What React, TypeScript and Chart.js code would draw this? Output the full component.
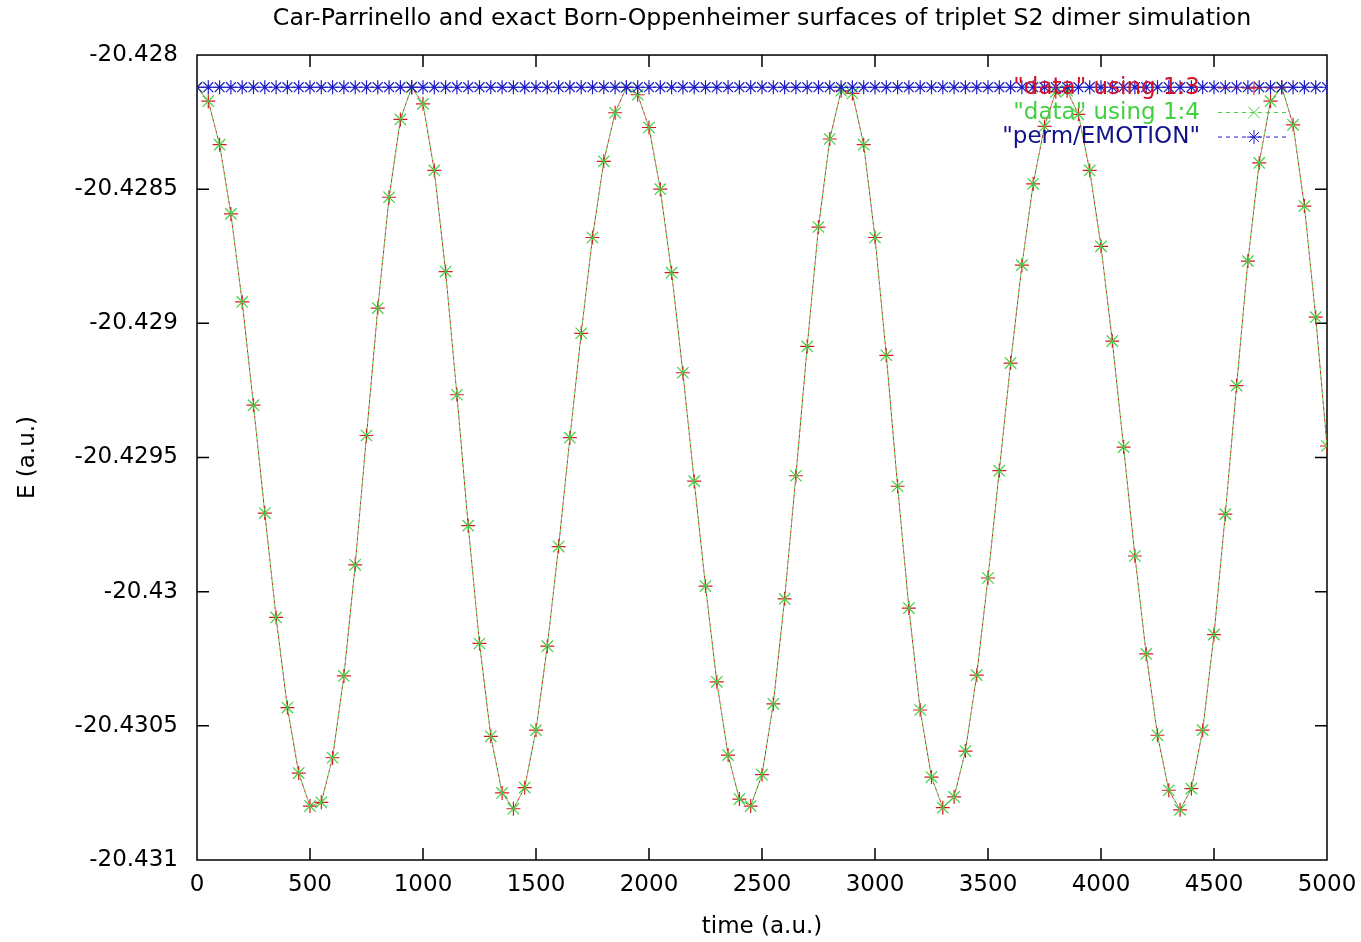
import React, { useEffect, useRef } from 'react';
import { Chart, registerables } from 'chart.js';

Chart.register(...registerables);

const CHART_TITLE = 'Car-Parrinello and exact Born-Oppenheimer surfaces of triplet S2 dimer simulation';
const X_TITLE = 'time (a.u.)';
const Y_TITLE = 'E (a.u.)';

const seriesLabels = ['"data" using 1:3', '"data" using 1:4', '"perm/EMOTION"'];

const times = [
  0, 50, 100, 150, 200, 250, 300, 350, 400, 450,
  500, 550, 600, 650, 700, 750, 800, 850, 900, 950,
  1000, 1050, 1100, 1150, 1200, 1250, 1300, 1350, 1400, 1450,
  1500, 1550, 1600, 1650, 1700, 1750, 1800, 1850, 1900, 1950,
  2000, 2050, 2100, 2150, 2200, 2250, 2300, 2350, 2400, 2450,
  2500, 2550, 2600, 2650, 2700, 2750, 2800, 2850, 2900, 2950,
  3000, 3050, 3100, 3150, 3200, 3250, 3300, 3350, 3400, 3450,
  3500, 3550, 3600, 3650, 3700, 3750, 3800, 3850, 3900, 3950,
  4000, 4050, 4100, 4150, 4200, 4250, 4300, 4350, 4400, 4450,
  4500, 4550, 4600, 4650, 4700, 4750, 4800, 4850, 4900, 4950,
  5000,
];

// column 3 of "data" (Car-Parrinello energy)
const cpEnergy = [
  -20.428120, -20.428172, -20.428334, -20.428592, -20.428920, -20.429305, -20.429707, -20.430096, -20.430432, -20.430676,
  -20.430799, -20.430785, -20.430619, -20.430314, -20.429900, -20.429418, -20.428943, -20.428530, -20.428240, -20.428120,
  -20.428182, -20.428430, -20.428807, -20.429266, -20.429754, -20.430193, -20.430539, -20.430750, -20.430809, -20.430730,
  -20.430516, -20.430203, -20.429832, -20.429426, -20.429037, -20.428680, -20.428396, -20.428215, -20.428120, -20.428148,
  -20.428270, -20.428500, -20.428811, -20.429184, -20.429588, -20.429979, -20.430336, -20.430609, -20.430773, -20.430799,
  -20.430682, -20.430418, -20.430027, -20.429568, -20.429086, -20.428641, -20.428313, -20.428133, -20.428143, -20.428334,
  -20.428680, -20.429119, -20.429607, -20.430061, -20.430441, -20.430691, -20.430805, -20.430765, -20.430594, -20.430311,
  -20.429949, -20.429549, -20.429148, -20.428783, -20.428480, -20.428266, -20.428137, -20.428133, -20.428221, -20.428430,
  -20.428713, -20.429066, -20.429461, -20.429867, -20.430232, -20.430535, -20.430740, -20.430813, -20.430734, -20.430516,
  -20.430160, -20.429711, -20.429232, -20.428768, -20.428402, -20.428172, -20.428120, -20.428260, -20.428563, -20.428977,
  -20.429457,
];

// column 4 of "data" (exact Born-Oppenheimer energy)
const boEnergy = [
  -20.428120, -20.428172, -20.428334, -20.428592, -20.428920, -20.429305, -20.429707, -20.430096, -20.430432, -20.430676,
  -20.430799, -20.430785, -20.430619, -20.430314, -20.429900, -20.429418, -20.428943, -20.428530, -20.428240, -20.428120,
  -20.428182, -20.428430, -20.428807, -20.429266, -20.429754, -20.430193, -20.430539, -20.430750, -20.430809, -20.430730,
  -20.430516, -20.430203, -20.429832, -20.429426, -20.429037, -20.428680, -20.428396, -20.428215, -20.428120, -20.428148,
  -20.428270, -20.428500, -20.428811, -20.429184, -20.429588, -20.429979, -20.430336, -20.430609, -20.430773, -20.430799,
  -20.430682, -20.430418, -20.430027, -20.429568, -20.429086, -20.428641, -20.428313, -20.428133, -20.428143, -20.428334,
  -20.428680, -20.429119, -20.429607, -20.430061, -20.430441, -20.430691, -20.430805, -20.430765, -20.430594, -20.430311,
  -20.429949, -20.429549, -20.429148, -20.428783, -20.428480, -20.428266, -20.428137, -20.428133, -20.428221, -20.428430,
  -20.428713, -20.429066, -20.429461, -20.429867, -20.430232, -20.430535, -20.430740, -20.430813, -20.430734, -20.430516,
  -20.430160, -20.429711, -20.429232, -20.428768, -20.428402, -20.428172, -20.428120, -20.428260, -20.428563, -20.428977,
  -20.429457,
];

// perm/EMOTION total (conserved) energy
const emotionEnergy = [
  -20.42812, -20.42812, -20.42812, -20.42812, -20.42812, -20.42812, -20.42812, -20.42812, -20.42812, -20.42812,
  -20.42812, -20.42812, -20.42812, -20.42812, -20.42812, -20.42812, -20.42812, -20.42812, -20.42812, -20.42812,
  -20.42812, -20.42812, -20.42812, -20.42812, -20.42812, -20.42812, -20.42812, -20.42812, -20.42812, -20.42812,
  -20.42812, -20.42812, -20.42812, -20.42812, -20.42812, -20.42812, -20.42812, -20.42812, -20.42812, -20.42812,
  -20.42812, -20.42812, -20.42812, -20.42812, -20.42812, -20.42812, -20.42812, -20.42812, -20.42812, -20.42812,
  -20.42812, -20.42812, -20.42812, -20.42812, -20.42812, -20.42812, -20.42812, -20.42812, -20.42812, -20.42812,
  -20.42812, -20.42812, -20.42812, -20.42812, -20.42812, -20.42812, -20.42812, -20.42812, -20.42812, -20.42812,
  -20.42812, -20.42812, -20.42812, -20.42812, -20.42812, -20.42812, -20.42812, -20.42812, -20.42812, -20.42812,
  -20.42812, -20.42812, -20.42812, -20.42812, -20.42812, -20.42812, -20.42812, -20.42812, -20.42812, -20.42812,
  -20.42812, -20.42812, -20.42812, -20.42812, -20.42812, -20.42812, -20.42812, -20.42812, -20.42812, -20.42812,
  -20.42812,
];

const xTickValues = [0, 500, 1000, 1500, 2000, 2500, 3000, 3500, 4000, 4500, 5000];
const xTickLabels = ['0', '500', '1000', '1500', '2000', '2500', '3000', '3500', '4000', '4500', '5000'];
const yTickValues = [-20.431, -20.4305, -20.43, -20.4295, -20.429, -20.4285, -20.428];
const yTickLabels = ['-20.431', '-20.4305', '-20.43', '-20.4295', '-20.429', '-20.4285', '-20.428'];

const FONT = '"DejaVu Sans", "Liberation Sans", Arial, sans-serif';
const RED = '#d02020';
const GREEN = '#3fd03f';
const BLUE = '#1c1cc4';
const legendTextColors = ['#d01028', '#40d040', '#12128c'];

function drawMarker(ctx: CanvasRenderingContext2D, style: string, x: number, y: number, r: number) {
  ctx.beginPath();
  if (style === 'cross' || style === 'star') {
    ctx.moveTo(x - r, y); ctx.lineTo(x + r, y);
    ctx.moveTo(x, y - r); ctx.lineTo(x, y + r);
  }
  if (style === 'crossRot' || style === 'star') {
    const d = r * Math.SQRT1_2;
    ctx.moveTo(x - d, y - d); ctx.lineTo(x + d, y + d);
    ctx.moveTo(x - d, y + d); ctx.lineTo(x + d, y - d);
  }
  ctx.stroke();
}

const framePlugin = {
  id: 'gnuFrame',
  beforeDatasetsDraw(chart: any) {
    const { ctx, chartArea: a, scales } = chart;
    ctx.save();
    ctx.strokeStyle = '#000';
    ctx.lineWidth = 1.5;
    ctx.strokeRect(a.left, a.top, a.right - a.left, a.bottom - a.top);
    const L = 12;
    ctx.beginPath();
    scales.x.ticks.forEach((t: any) => {
      const px = scales.x.getPixelForValue(t.value);
      if (px <= a.left + 1 || px >= a.right - 1) return;
      ctx.moveTo(px, a.bottom); ctx.lineTo(px, a.bottom - L);
      ctx.moveTo(px, a.top); ctx.lineTo(px, a.top + L);
    });
    scales.y.ticks.forEach((t: any) => {
      const py = scales.y.getPixelForValue(t.value);
      if (py <= a.top + 1 || py >= a.bottom - 1) return;
      ctx.moveTo(a.left, py); ctx.lineTo(a.left + L, py);
      ctx.moveTo(a.right, py); ctx.lineTo(a.right - L, py);
    });
    ctx.stroke();
    ctx.restore();
  },
};

const keyPlugin = {
  id: 'gnuKey',
  afterDatasetsDraw(chart: any) {
    const { ctx, chartArea: a } = chart;
    const textRight = a.right - 127;
    const sampleL = a.right - 109;
    const sampleR = a.right - 37;
    ctx.save();
    ctx.font = `23px ${FONT}`;
    ctx.textAlign = 'right';
    ctx.textBaseline = 'middle';
    chart.data.datasets.forEach((ds: any, i: number) => {
      const y = a.top + 33 + i * 24.5;
      ctx.fillStyle = legendTextColors[i];
      ctx.fillText(ds.label, textRight, y);
      ctx.strokeStyle = ds.borderColor;
      ctx.lineWidth = 1;
      ctx.setLineDash([4, 4]);
      ctx.beginPath();
      ctx.moveTo(sampleL, y); ctx.lineTo(sampleR, y);
      ctx.stroke();
      ctx.setLineDash([]);
      drawMarker(ctx, ds.pointStyle, (sampleL + sampleR) / 2, y, ds.pointRadius);
    });
    ctx.restore();
  },
};

export default function App() {
  const ref = useRef<HTMLCanvasElement>(null);

  useEffect(() => {
    const canvas = ref.current;
    if (!canvas) return;
    const chart = new Chart(canvas, {
      type: 'line',
      data: {
        datasets: [
          {
            label: seriesLabels[0],
            data: times.map((t, i) => ({ x: t, y: cpEnergy[i] })),
            borderColor: RED,
            backgroundColor: RED,
            borderWidth: 1,
            borderDash: [3, 3],
            pointStyle: 'cross',
            pointRadius: 7,
            pointBorderWidth: 1.2,
            pointBorderColor: RED,
            tension: 0,
            fill: false,
            order: 3,
          },
          {
            label: seriesLabels[1],
            data: times.map((t, i) => ({ x: t, y: boEnergy[i] })),
            borderColor: GREEN,
            backgroundColor: GREEN,
            borderWidth: 1,
            borderDash: [3, 3],
            borderDashOffset: 3,
            pointStyle: 'crossRot',
            pointRadius: 8,
            pointBorderWidth: 1.2,
            pointBorderColor: GREEN,
            tension: 0,
            fill: false,
            order: 2,
          },
          {
            label: seriesLabels[2],
            data: times.map((t, i) => ({ x: t, y: emotionEnergy[i] })),
            borderColor: BLUE,
            backgroundColor: BLUE,
            borderWidth: 1,
            borderDash: [3, 3],
            pointStyle: 'star',
            pointRadius: 7,
            pointBorderWidth: 1.2,
            pointBorderColor: BLUE,
            tension: 0,
            fill: false,
            order: 1,
          },
        ],
      },
      options: {
        responsive: false,
        animation: false,
        events: [],
        layout: { padding: { left: 0, right: 34, top: 0, bottom: 0 } },
        plugins: {
          legend: { display: false },
          tooltip: { enabled: false },
          title: {
            display: true,
            text: CHART_TITLE,
            color: '#000',
            fullSize: false,
            font: { family: FONT, size: 23.7, weight: 'normal', lineHeight: 1.2 },
            padding: { top: 5, bottom: 21.6 },
          },
        },
        scales: {
          x: {
            type: 'linear',
            min: 0,
            max: 5000,
            afterBuildTicks: (s: any) => { s.ticks = xTickValues.map((v) => ({ value: v })); },
            afterFit: (s: any) => { s.height = 82; s.paddingLeft = 0; s.paddingRight = 0; },
            grid: { display: false, drawTicks: false },
            border: { display: false },
            ticks: {
              padding: 11,
              color: '#000',
              maxRotation: 0,
              autoSkip: false,
              font: { family: FONT, size: 23, lineHeight: 1.2 },
              callback: (_v: any, i: number) => xTickLabels[i],
            },
            title: {
              display: true,
              text: X_TITLE,
              color: '#000',
              font: { family: FONT, size: 23, lineHeight: 1.2 },
              padding: { top: 0, bottom: 1 },
            },
          },
          y: {
            type: 'linear',
            min: -20.431,
            max: -20.428,
            afterBuildTicks: (s: any) => { s.ticks = yTickValues.map((v) => ({ value: v })); },
            afterFit: (s: any) => { s.width = 197; },
            grid: { display: false, drawTicks: false },
            border: { display: false },
            ticks: {
              padding: 19,
              color: '#000',
              autoSkip: false,
              font: { family: FONT, size: 23, lineHeight: 1.2 },
              callback: (_v: any, i: number) => yTickLabels[i],
            },
            title: {
              display: true,
              text: Y_TITLE,
              color: '#000',
              font: { family: FONT, size: 23, lineHeight: 1.2 },
              padding: { top: 14, bottom: 0 },
            },
          },
        },
      },
      plugins: [framePlugin, keyPlugin],
    } as any);
    return () => chart.destroy();
  }, []);

  return (
    <div style={{ position: 'fixed', left: 0, top: 0, width: 1361, height: 942, background: '#fff' }}>
      <canvas ref={ref} width={1361} height={942} style={{ display: 'block', width: 1361, height: 942 }} />
    </div>
  );
}
